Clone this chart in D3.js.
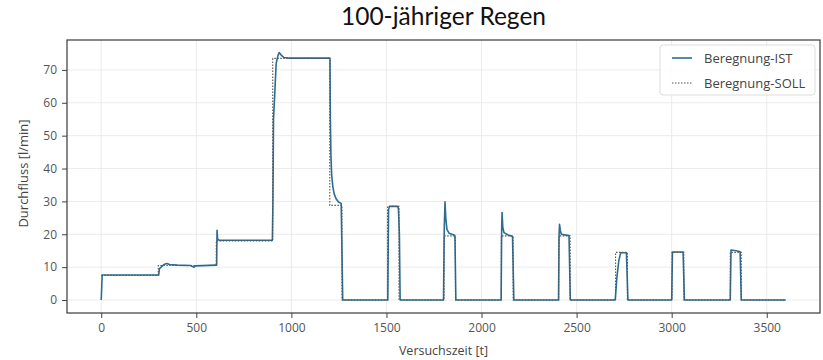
<!DOCTYPE html>
<html>
<head>
<meta charset="utf-8">
<script src="https://cdn.jsdelivr.net/npm/d3@7"></script>
<style>
  html, body { margin: 0; padding: 0; background: #fff; }
  svg { display: block; }
</style>
</head>
<body>
<svg id="chart" width="823" height="360"></svg>
<script>
// Measured flow (IST): time [t] and flow [l/min]
const istTime = [0, 5, 300, 302, 306, 315, 330, 345, 360, 400, 470, 480, 488, 495, 600, 607, 609, 612, 620,
  900, 903, 906, 912, 920, 930, 936, 945, 960, 985, 1203, 1205, 1208, 1212, 1218, 1225, 1235, 1248, 1262, 1266, 1270,
  1507, 1511, 1516, 1558, 1563, 1568, 1572,
  1800, 1804, 1808, 1812, 1818, 1830, 1855, 1860, 1865,
  2103, 2106, 2108, 2112, 2118, 2140, 2163, 2170,
  2405, 2408, 2410, 2415, 2420, 2460, 2467,
  2703, 2712, 2722, 2732, 2762, 2770,
  3000, 3004, 3060, 3067,
  3308, 3312, 3340, 3360, 3366, 3600];
const istFlow = [0, 7.6, 7.6, 7.6, 9.5, 10.0, 10.8, 11.1, 10.8, 10.6, 10.5, 10.2, 10.0, 10.4, 10.6, 10.6, 21.2, 18.5, 18.2,
  18.2, 30, 55, 62, 72, 74.5, 75.3, 74.6, 73.8, 73.6, 73.6, 55, 44, 38, 34.5, 32.3, 30.8, 29.8, 29.4, 15, 0,
  0, 27.5, 28.5, 28.5, 27.8, 20, 0,
  0, 22, 29.9, 25, 21.5, 20.3, 19.8, 19.5, 0,
  0, 22, 26.6, 22, 20.5, 19.8, 19.3, 0,
  0, 20, 23.0, 21, 20.0, 19.6, 0,
  0, 7, 12, 14.4, 14.4, 0,
  0, 14.6, 14.6, 0,
  0, 15.2, 15.0, 14.7, 0, 0];

// Target flow (SOLL): step start times and levels, held until the next step
const sollStart = [0, 300, 605, 902, 1202, 1266, 1506, 1566, 1803, 1863, 2104, 2166, 2406, 2466, 2705, 2767, 3002, 3064, 3308, 3366];
const sollLevel = [7.5, 10.5, 18.0, 73.5, 28.8, 0, 28.5, 0, 19.5, 0, 19.5, 0, 19.5, 0, 14.5, 0, 14.5, 0, 14.5, 0];
const sollEnd = 3600;

const xTicks = [0, 500, 1000, 1500, 2000, 2500, 3000, 3500];
const yTicks = [0, 10, 20, 30, 40, 50, 60, 70];
const seriesNames = ["Beregnung-IST", "Beregnung-SOLL"];

const titleText = "100-jähriger Regen";
const xLabel = "Versuchszeit [t]";
const yLabel = "Durchfluss [l/min]";

const svg = d3.select("#chart");
const plot = { left: 67, right: 820, top: 40, bottom: 313 };

const x = d3.scaleLinear().domain([-180, 3780]).range([plot.left, plot.right]);
const y = d3.scaleLinear().domain([-3.95, 79.1]).range([plot.bottom, plot.top]);

const uiFont = "'Open Sans', 'DejaVu Sans', sans-serif";
const istColor = "#2d6d92";
const sollColor = "#555";

// grid
const grid = svg.append("g").attr("stroke", "#e6e6e6").attr("stroke-width", 0.8);
grid.selectAll("line.gx").data(xTicks).join("line")
  .attr("x1", d => x(d)).attr("x2", d => x(d))
  .attr("y1", plot.top).attr("y2", plot.bottom);
grid.selectAll("line.gy").data(yTicks).join("line")
  .attr("x1", plot.left).attr("x2", plot.right)
  .attr("y1", d => y(d)).attr("y2", d => y(d));

// axes
const xAxis = svg.append("g")
  .attr("transform", `translate(0,${plot.bottom})`)
  .call(d3.axisBottom(x).tickValues(xTicks).tickSize(5).tickPadding(5).tickFormat(d3.format("d")));
const yAxis = svg.append("g")
  .attr("transform", `translate(${plot.left},0)`)
  .call(d3.axisLeft(y).tickValues(yTicks).tickSize(5).tickPadding(5).tickFormat(d3.format("d")));
[xAxis, yAxis].forEach(a => {
  a.select(".domain").remove();
  a.selectAll(".tick line").attr("stroke", "#444").attr("stroke-width", 1);
  a.selectAll(".tick text").attr("fill", "#555").style("font-family", uiFont).style("font-size", "12px");
});

// series
svg.append("defs").append("clipPath").attr("id", "plotclip")
  .append("rect").attr("x", plot.left).attr("y", plot.top)
  .attr("width", plot.right - plot.left).attr("height", plot.bottom - plot.top);

const istPoints = istTime.map((t, i) => [t, istFlow[i]]);
const sollPoints = sollStart.map((t, i) => [t, sollLevel[i]]).concat([[sollEnd, sollLevel[sollLevel.length - 1]]]);

const istLine = d3.line().x(d => x(d[0])).y(d => y(d[1]));
const sollLine = d3.line().curve(d3.curveStepAfter).x(d => x(d[0])).y(d => y(d[1]));

const lines = svg.append("g").attr("clip-path", "url(#plotclip)");
lines.append("path").datum(istPoints)
  .attr("d", istLine).attr("fill", "none")
  .attr("stroke", istColor).attr("stroke-width", 1.6).attr("stroke-linejoin", "round");
lines.append("path").datum(sollPoints)
  .attr("d", sollLine).attr("fill", "none")
  .attr("stroke", sollColor).attr("stroke-width", 1.1).attr("stroke-dasharray", "1.5,1.5");

// frame
svg.append("rect").attr("x", plot.left).attr("y", plot.top)
  .attr("width", plot.right - plot.left).attr("height", plot.bottom - plot.top)
  .attr("fill", "none").attr("stroke", "#3a3a3a").attr("stroke-width", 1.2);

// title and axis labels
svg.append("text").attr("x", (plot.left + plot.right) / 2).attr("y", 25)
  .attr("text-anchor", "middle").attr("fill", "#111")
  .style("font-family", "Lato, 'Open Sans', sans-serif").style("font-size", "24.5px")
  .text(titleText);
svg.append("text").attr("x", (plot.left + plot.right) / 2).attr("y", 355)
  .attr("text-anchor", "middle").attr("fill", "#444")
  .style("font-family", uiFont).style("font-size", "12.5px")
  .text(xLabel);
svg.append("text").attr("transform", `translate(28,${(plot.top + plot.bottom) / 2 - 3}) rotate(-90)`)
  .attr("text-anchor", "middle").attr("fill", "#444")
  .style("font-family", uiFont).style("font-size", "13px")
  .text(yLabel);

// legend
const legend = svg.append("g").attr("transform", "translate(660,45)");
legend.append("rect").attr("width", 155).attr("height", 50).attr("rx", 3)
  .attr("fill", "#fff").attr("fill-opacity", 0.85).attr("stroke", "#ddd").attr("stroke-width", 1);
const legendStyles = [
  { stroke: istColor, width: 1.6, dash: null },
  { stroke: sollColor, width: 1.1, dash: "1.5,1.5" }
];
seriesNames.forEach((name, i) => {
  const ly = 13 + i * 25;
  legend.append("line").attr("x1", 12).attr("x2", 32).attr("y1", ly).attr("y2", ly)
    .attr("stroke", legendStyles[i].stroke).attr("stroke-width", legendStyles[i].width)
    .attr("stroke-dasharray", legendStyles[i].dash);
  legend.append("text").attr("x", 44).attr("y", ly + 4.5).attr("fill", "#444")
    .style("font-family", uiFont).style("font-size", "13px").text(name);
});
</script>
</body>
</html>
